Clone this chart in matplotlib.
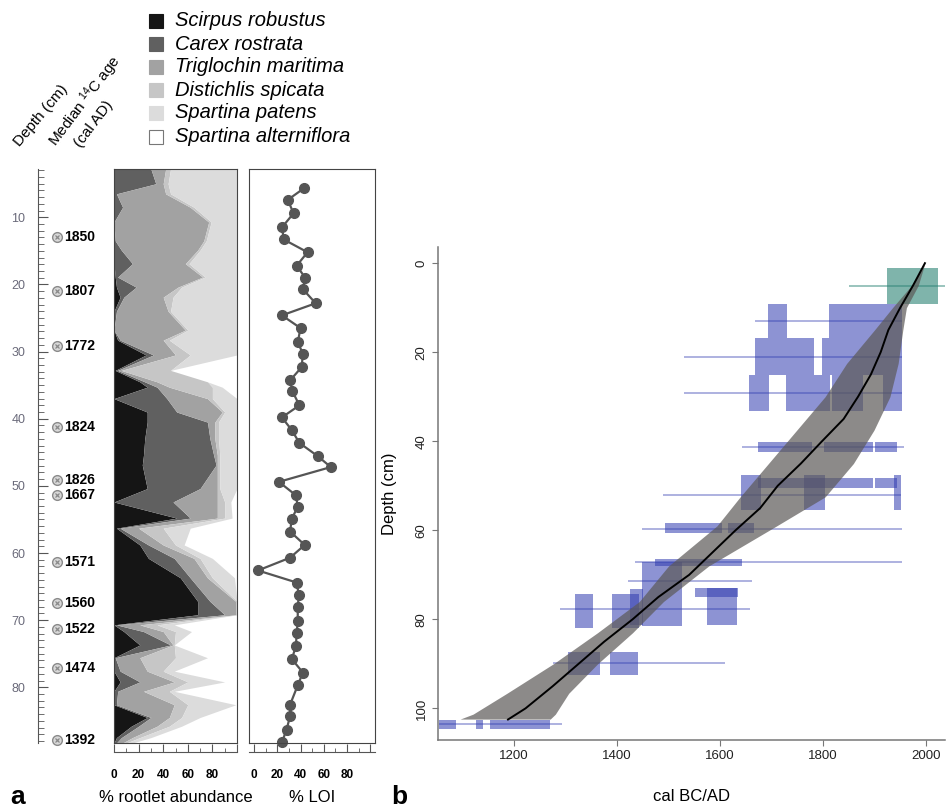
import numpy as np
import matplotlib.pyplot as plt
from matplotlib.patches import Rectangle

plt.rcParams['font.family'] = ['Liberation Sans', 'DejaVu Sans']
plt.rcParams['mathtext.default'] = 'regular'

# ---------------- panel a data ----------------
species = ['Scirpus robustus', 'Carex rostrata', 'Triglochin maritima',
           'Distichlis spicata', 'Spartina patens', 'Spartina alterniflora']
species_colors = ['#151515', '#606060', '#a2a2a2', '#c6c6c6', '#dcdcdc', '#ffffff']

root_depth = [2.8, 5.0, 6.5, 8.5, 10.7, 13.5, 14.9, 16.9, 18.9, 20.4, 21.9, 24.0,
              26.8, 28.3, 30.5, 32.8, 34.5, 35.3, 37.0, 39.0, 40.5, 43.0, 45.4,
              46.9, 50.4, 52.4, 54.8, 56.3, 58.8, 60.8, 63.7, 67.2, 69.2, 70.7,
              71.7, 73.7, 75.6, 77.6, 79.2, 80.6, 82.6, 84.5, 85.8, 87.5, 88.3]
scirpus = [0, 0, 0, 0, 0, 0, 0, 0, 1, 2, 5, 0, 0, 3, 26, 1, 21, 27, 0, 27, 27, 25, 24,
           23, 27, 0, 51, 2, 21, 28, 54, 68, 68, 0, 8, 21, 0, 0, 5, 0, 0, 27, 14, 2, 0]
carex = [30, 34, 2, 7, 0, 1, 6, 15, 2, 16, 3, 2, 0, 2, 6, 2, 4, 8, 43, 24, 49, 53, 57,
         60, 43, 48, 11, 3, 7, 21, 8, 10, 22, 2, 16, 25, 1, 5, 16, 3, 2, 3, 6, 4, 2]
triglochin = [12, 6, 40, 55, 77, 72, 62, 43, 69, 34, 32, 42, 58, 35, 18, 3, 10, 10, 33,
              37, 6, 4, 3, 1, 14, 36, 22, 15, 12, 16, 14, 21, 9, 19, 16, 2, 20, 22, 28,
              21, 47, 15, 15, 9, 5]
distichlis = [4, 4, 4, 3, 2, 2, 2, 3, 2, 3, 8, 2, 2, 5, 12, 40, 41, 35, 4, 2, 3, 3, 2,
              2, 2, 6, 6, 20, 10, 5, 4, 1, 1, 14, 10, 1, 29, 13, 11, 21, 11, 10, 10, 6, 3]
patens = [54, 56, 54, 35, 21, 25, 30, 39, 26, 45, 52, 54, 40, 55, 38, 0, 0, 8, 20, 10,
          15, 15, 14, 14, 14, 5, 6, 22, 7, 10, 18, 0, 0, 14, 13, 0, 26, 9, 30, 4, 39, 15,
          10, 9, 5]
alterniflora = [0, 0, 0, 0, 0, 0, 0, 0, 0, 0, 0, 0, 0, 0, 0, 54, 24, 12, 0, 0, 0, 0, 0,
                0, 0, 5, 4, 38, 43, 20, 2, 0, 0, 51, 37, 51, 24, 51, 10, 51, 1, 30, 45,
                70, 85]

loi_depth = [5.7, 7.4, 9.4, 11.5, 13.3, 15.2, 17.2, 19.0, 20.7, 22.8, 24.6, 26.5, 28.6,
             30.3, 32.3, 34.3, 35.9, 38.0, 39.8, 41.7, 43.6, 45.6, 47.2, 49.4, 51.4,
             53.1, 54.9, 56.8, 58.8, 60.7, 62.6, 64.4, 66.3, 68.1, 70.2, 71.9, 73.9,
             75.8, 77.8, 79.7, 82.6, 84.3, 86.3, 88.2]
loi = [42.7, 29, 34, 24, 25.6, 46, 36.7, 44, 42, 53, 24, 40, 37.6, 42, 41, 31, 33, 39,
       24, 32.5, 39, 55, 66, 21.4, 36, 37.6, 32.5, 31, 43.6, 31, 3.4, 36.7, 38.5, 37.6,
       37.6, 36.7, 36, 32.5, 42, 37.6, 31, 31, 28, 24]

age_labels = ['1850', '1807', '1772', '1824', '1826', '1667', '1571', '1560', '1522',
              '1474', '1392']
age_depth = [13.0, 21.0, 29.1, 41.2, 49.1, 51.3, 61.3, 67.4, 71.3, 77.2, 87.8]

# ---------------- panel b data ----------------
band_depth = [0, 5, 10, 15, 22.5, 30, 37.5, 45, 52.5, 59, 68, 76, 83, 90, 96.6, 101.3, 102.4]
band_old = [1998, 1972, 1935, 1900, 1846, 1804, 1749, 1694, 1639, 1594, 1500, 1443,
            1362, 1276, 1186, 1120, 1095]
band_young = [1998, 1985, 1962, 1955, 1946, 1930, 1899, 1859, 1804, 1710, 1578, 1490,
              1430, 1362, 1306, 1280, 1270]

model_depth = [0, 5, 10, 15, 20, 25, 30, 35, 40, 45, 50, 55, 60, 65, 70, 75, 80, 85,
               90, 95, 100, 102.5]
model_age = [1998, 1975, 1950, 1927, 1912, 1893, 1868, 1840, 1798, 1757, 1712, 1678,
             1630, 1585, 1540, 1480, 1430, 1375, 1325, 1275, 1222, 1188]

box_lo = [1694, 1812, 1668, 1799, 1657, 1728, 1817, 1917, 1674, 1801, 1901, 1640, 1764,
          1674, 1901, 1938, 1493, 1616, 1474, 1448, 1425, 1551, 1574, 1318, 1391, 1305,
          1386, 1053, 1126, 1153]
box_hi = [1730, 1954, 1783, 1954, 1696, 1814, 1877, 1954, 1778, 1898, 1943, 1679, 1803,
          1898, 1943, 1951, 1603, 1665, 1642, 1526, 1451, 1635, 1632, 1354, 1443, 1367,
          1441, 1087, 1140, 1270]
box_top = [9.1, 9.1, 16.8, 16.8, 25.2, 25.2, 25.2, 25.2, 40.2, 40.2, 40.2, 47.5, 47.5,
           48.2, 48.2, 47.5, 58.4, 58.4, 66.5, 67.2, 73.2, 73.0, 73.0, 74.2, 74.2, 87.4,
           87.4, 102.7, 102.7, 102.7]
box_bot = [16.8, 16.8, 25.2, 25.2, 33.1, 33.1, 33.1, 33.1, 42.4, 42.4, 42.4, 55.4, 55.4,
           50.5, 50.5, 55.4, 60.7, 60.7, 68.0, 81.4, 81.3, 75.0, 81.2, 82.0, 82.0, 92.5,
           92.5, 104.6, 104.6, 104.6]

range_depth = [13.1, 21.1, 29.1, 41.3, 52.1, 59.6, 67.2, 71.3, 77.6, 89.9, 103.4]
range_lo = [1668, 1529, 1529, 1642, 1490, 1448, 1435, 1422, 1289, 1276, 1053]
range_hi = [1954, 1954, 1954, 1957, 1951, 1953, 1953, 1662, 1658, 1610, 1293]

top_box = [1925, 2023, 1.1, 9.1]
top_range = [1851, 2039, 5.1]

# ---------------- figure ----------------
W, H = 952, 809
fig = plt.figure(figsize=(W / 100, H / 100), dpi=100)


def fx(px):
    return px / W


def fy(py):
    return 1 - py / H


top_a, bot_a = 169, 743
ylim_a = (88.3, 2.8)

# depth axis
ax_d = fig.add_axes([fx(38), fy(bot_a), fx(72), fy(top_a) - fy(bot_a)])
ax_d.set_ylim(ylim_a)
ax_d.set_xlim(0, 1)
ax_d.patch.set_alpha(0)
for s in ['top', 'right', 'bottom']:
    ax_d.spines[s].set_visible(False)
ax_d.spines['left'].set_color('#555555')
ax_d.set_xticks([])
ax_d.set_yticks(np.arange(10, 81, 10))
ax_d.set_yticks(np.arange(3, 89, 1), minor=True)
ax_d.tick_params(axis='y', which='major', direction='in', length=7, color='#555555',
                 labelsize=9, labelcolor='#6a6a7a', pad=9)
ax_d.tick_params(axis='y', which='minor', direction='in', length=4, color='#555555')
ax_d.plot([0.264] * len(age_depth), age_depth, 'o', ms=7, mfc='#d8d8d8', mec='#8a8a8a',
          mew=1, clip_on=False)
ax_d.plot([0.264] * len(age_depth), age_depth, 'x', ms=3.5, color='#8a8a8a', mew=0.9,
          clip_on=False)
for lab, d in zip(age_labels, age_depth):
    ax_d.text(0.36, d, lab, fontsize=10, fontweight='bold', va='center', ha='left')

# rootlet abundance
ax_r = fig.add_axes([fx(114), fy(bot_a), fx(123), fy(top_a) - fy(bot_a)])
layers = [scirpus, carex, triglochin, distichlis, patens, alterniflora]
cum = np.cumsum(np.array(layers, dtype=float), axis=0)
left = np.zeros(len(root_depth))
for i in range(5):
    ax_r.fill_betweenx(root_depth, left, cum[i], color=species_colors[i], lw=0)
    left = cum[i]
ax_r.set_xlim(0, 100)
ax_r.set_ylim(ylim_a)
ax_r.set_xticks([])
ax_r.set_yticks([])
for s in ax_r.spines.values():
    s.set_color('#444444')

# LOI
ax_l = fig.add_axes([fx(249), fy(bot_a), fx(126), fy(top_a) - fy(bot_a)])
ax_l.plot(loi, loi_depth, '-o', color='#555555', lw=1.6, ms=7, clip_on=False)
ax_l.set_xlim(-4.3, 104)
ax_l.set_ylim(ylim_a)
ax_l.set_xticks([])
ax_l.set_yticks([])
for s in ax_l.spines.values():
    s.set_color('#444444')

for ax in (ax_r, ax_l):
    sec = ax.secondary_xaxis(-0.016)
    sec.set_xticks(np.arange(0, 101, 20))
    sec.set_xticklabels(['0', '20', '40', '60', '80', ''])
    sec.set_xticks(np.arange(10, 100, 20), minor=True)
    sec.spines['bottom'].set_color('#555555')
    sec.tick_params(which='major', direction='in', length=6, color='#555555',
                    labelsize=8.5, pad=12)
    sec.tick_params(which='minor', direction='in', length=3, color='#555555')
    for t in sec.get_xticklabels():
        t.set_fontweight('bold')

fig.text(fx(176), fy(797), '% rootlet abundance', fontsize=12, ha='center', va='center')
fig.text(fx(312), fy(797), '% LOI', fontsize=12, ha='center', va='center')

# legend
leg_y = [21, 44, 67, 90, 113, 137]
for name, col, y in zip(species, species_colors, leg_y):
    fig.add_artist(Rectangle((fx(149), fy(y + 7)), fx(14), fy(y - 7) - fy(y + 7),
                             transform=fig.transFigure, facecolor=col,
                             edgecolor='#777777' if col == '#ffffff' else col, lw=0.8))
    fig.text(fx(175), fy(y), name, fontsize=14.5, style='italic', va='center', ha='left')

fig.text(fx(20), fy(147), 'Depth (cm)', fontsize=11, rotation=50, ha='left',
         va='baseline', rotation_mode='anchor')
fig.text(fx(56), fy(147), r'Median $^{14}$C age', fontsize=11, rotation=53, ha='left',
         va='baseline', rotation_mode='anchor')
fig.text(fx(81), fy(148), '(cal AD)', fontsize=11, rotation=53, ha='left',
         va='baseline', rotation_mode='anchor')

fig.text(fx(18), fy(797), 'a', fontsize=19, fontweight='bold', ha='center', va='center')
fig.text(fx(399), fy(797), 'b', fontsize=19, fontweight='bold', ha='center', va='center')

# ---------------- panel b ----------------
ax_b = fig.add_axes([fx(438), fy(740), fx(507), fy(246.7) - fy(740)])
blue = '#2f3bb0'
ax_b.barh((np.array(box_top) + np.array(box_bot)) / 2,
          np.array(box_hi) - np.array(box_lo),
          height=np.array(box_bot) - np.array(box_top), left=box_lo,
          color=blue, alpha=0.55, lw=0, zorder=1)
ax_b.hlines(range_depth, range_lo, range_hi, color=blue, alpha=0.5, lw=1.1, zorder=1)
ax_b.barh((top_box[2] + top_box[3]) / 2, top_box[1] - top_box[0],
          height=top_box[3] - top_box[2], left=top_box[0], color='#2a8273', alpha=0.6,
          lw=0, zorder=1)
ax_b.hlines(top_range[2], top_range[0], top_range[1], color='#2a8273', alpha=0.6,
            lw=1.1, zorder=1)
ax_b.fill_betweenx(band_depth, band_old, band_young, color='#5c5957', alpha=0.7,
                   lw=0, zorder=2)
ax_b.plot(model_age, model_depth, color='black', lw=1.4, zorder=3)

ax_b.set_xlim(1052, 2037)
ax_b.set_ylim(107.1, -3.7)
ax_b.set_xticks([1200, 1400, 1600, 1800, 2000])
ax_b.set_yticks([0, 20, 40, 60, 80, 100])
ax_b.set_yticklabels(['0', '20', '40', '60', '80', '100'], rotation=90, va='center')
for s in ['top', 'right']:
    ax_b.spines[s].set_visible(False)
for s in ['left', 'bottom']:
    ax_b.spines[s].set_color('#777777')
    ax_b.spines[s].set_linewidth(1.1)
ax_b.tick_params(length=4, color='#777777', labelsize=9.5, labelcolor='#222222')
ax_b.set_ylabel('Depth (cm)', fontsize=12)
ax_b.yaxis.set_label_coords(-0.08, 0.5)
ax_b.set_xlabel('cal BC/AD', fontsize=12)
ax_b.xaxis.set_label_coords(0.5, -0.10)

fig.savefig('out.png', dpi=100)
